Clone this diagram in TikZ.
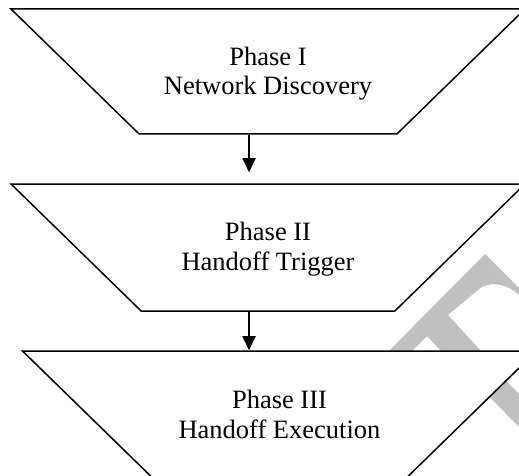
\documentclass[tikz,border=0pt]{standalone}
\usepackage{fontspec}
\setmainfont{Liberation Serif}
\usetikzlibrary{arrows.meta,shapes.geometric}
\definecolor{wmgray}{RGB}{192,192,192}
\tikzset{
  phase/.style={trapezium, trapezium angle=44.3, shape border rotate=180,
    trapezium stretches body, draw, line width=1.5pt, fill=white,
    inner ysep=0pt, text height=86pt, text depth=39pt,
    minimum width=514pt, align=center,
    font=\fontsize{26.5}{29.5}\selectfont},
  flow/.style={line width=1.8pt, -{Triangle[length=14pt,width=13pt]}}
}

\begin{document}
\begin{tikzpicture}[x=1pt,y=-1pt]
      \useasboundingbox (0,0) rectangle (519,476);
      \clip (0,0) rectangle (519,476);
      %watermark
      \fill[wmgray] (388,352) -- (485,254) -- (519,288) -- (519,295)
        .. controls (508,284) and (488,280) .. (478,290) -- (448,315)
        -- (482,352) -- (442,352) -- (427,336) -- (411,352) -- cycle;
      \fill[wmgray] (480,355) -- (519,394) -- (519,427) -- (465,372) -- cycle;
      %nodes
      \node[phase] (disc) at (268,71.5) {Phase I\\Network Discovery};
      \node[phase, text depth=41pt] (trig) at (268,247.5) {Phase II\\Handoff Trigger};
      \node[phase, text height=87pt] (exec) at (279.5,414) {Phase III\\Handoff Execution};
      %edges
      \draw[flow, shorten >=11pt] ([xshift=-19pt]disc.south) -- ([xshift=-19pt]trig.north);
      \draw[flow] ([xshift=-19pt]trig.south) -- ([xshift=-30.5pt]exec.north);
\end{tikzpicture}
\end{document}
